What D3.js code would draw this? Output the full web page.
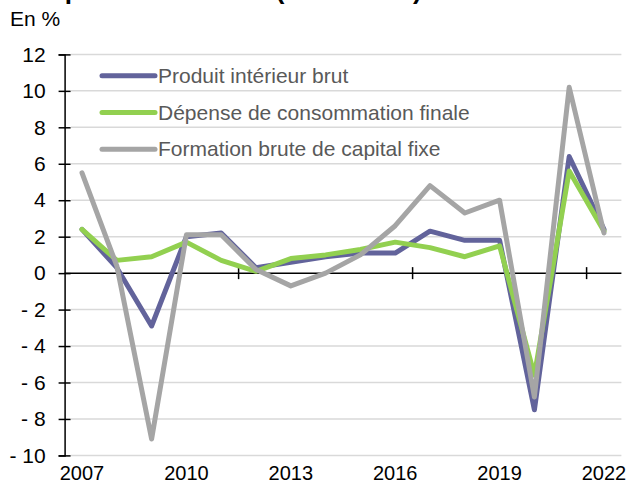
<!DOCTYPE html>
<html><head><meta charset="utf-8">
<script src="https://cdn.jsdelivr.net/npm/d3@7"></script>
<style>body{margin:0;background:#fff;} svg{display:block;font-family:"Liberation Sans",Arial,sans-serif;}</style>
</head><body>
<script>
const years = [2007,2008,2009,2010,2011,2012,2013,2014,2015,2016,2017,2018,2019,2020,2021,2022];
const pib   = [2.4,0.3,-2.9,2.0,2.2,0.3,0.6,0.9,1.1,1.1,2.3,1.8,1.8,-7.5,6.4,2.4];
const conso = [2.4,0.7,0.9,1.7,0.7,0.1,0.8,1.0,1.3,1.7,1.4,0.9,1.5,-5.6,5.6,2.3];
const fbcf  = [5.5,0.4,-9.1,2.1,2.1,0.2,-0.7,0.0,1.0,2.6,4.8,3.3,4.0,-6.8,10.2,2.2];
const seriesNames = ["Produit intérieur brut","Dépense de consommation finale","Formation brute de capital fixe"];
const colors = ["#62639b","#92d050","#a5a5a5"];
const yTicks = [12,10,8,6,4,2,0,-2,-4,-6,-8,-10];
const xLabelYears = [2007,2010,2013,2016,2019,2022];
const xTickBounds = [5,10,15];

const W=630,H=492;
const FONT='"Liberation Sans",Arial,sans-serif';
const svg=d3.select("body").append("svg").attr("width",W).attr("height",H);
const x=d3.scaleLinear().domain([0,years.length]).range([64.6,621.4]);
const y=d3.scaleLinear().domain([-10,12]).range([455.4,54.4]);
const xc=i=>x(i+0.5);

// title (cut off at the top, as in the reference)
svg.append("text").attr("x",7).attr("y",-1).attr("font-size",26).attr("font-weight","bold").attr("fill","#000")
  .text("Composantes du PIB (en volume)");

svg.append("text").attr("x",10).attr("y",26).attr("font-size",21).attr("fill","#000").text("En %");

// gridlines
svg.append("g").selectAll("line").data(yTicks.filter(d=>d!==0)).join("line")
  .attr("x1",71).attr("x2",621.4).attr("y1",d=>y(d)).attr("y2",d=>y(d))
  .attr("stroke","#d9d9d9").attr("stroke-width",1.5);

// y axis
const ya=svg.append("g").attr("transform","translate(64.6,0)")
  .call(d3.axisLeft(y).tickValues(yTicks).tickSize(6).tickPadding(13)
    .tickFormat(d=>d<0?"- "+Math.abs(d):d));
ya.select(".domain").attr("stroke","#000").attr("stroke-width",1.5);
ya.selectAll(".tick line").attr("stroke","#000").attr("stroke-width",1.5).attr("x1",6);
ya.selectAll(".tick text").attr("font-size",21).attr("fill","#000").attr("font-family",FONT);

// zero line
svg.append("line").attr("x1",x(0)).attr("x2",x(years.length)).attr("y1",y(0)).attr("y2",y(0))
  .attr("stroke","#000").attr("stroke-width",1.5);
svg.append("g").selectAll("line").data(xTickBounds).join("line")
  .attr("x1",d=>x(d)).attr("x2",d=>x(d)).attr("y1",y(0)-6).attr("y2",y(0)+6)
  .attr("stroke","#000").attr("stroke-width",1.5);

// x labels
svg.append("g").selectAll("text").data(xLabelYears).join("text")
  .attr("x",d=>xc(years.indexOf(d))).attr("y",480).attr("text-anchor","middle")
  .attr("font-size",20).attr("fill","#000").text(d=>d);

// lines
const line=d3.line().x((d,i)=>xc(i)).y(d=>y(d));
[pib,conso,fbcf].forEach((s,k)=>{
  svg.append("path").datum(s).attr("d",line).attr("fill","none")
    .attr("stroke",colors[k]).attr("stroke-width",5)
    .attr("stroke-linejoin","round").attr("stroke-linecap","round");
});

// legend
const lg=svg.append("g");
seriesNames.forEach((n,k)=>{
  const ly=75.7+k*36.8;
  lg.append("line").attr("x1",102).attr("x2",155).attr("y1",ly).attr("y2",ly)
    .attr("stroke",colors[k]).attr("stroke-width",5).attr("stroke-linecap","round");
  lg.append("text").attr("x",158).attr("y",ly+7).attr("font-size",21).attr("fill","#595959").text(n);
});
</script>
</body></html>
